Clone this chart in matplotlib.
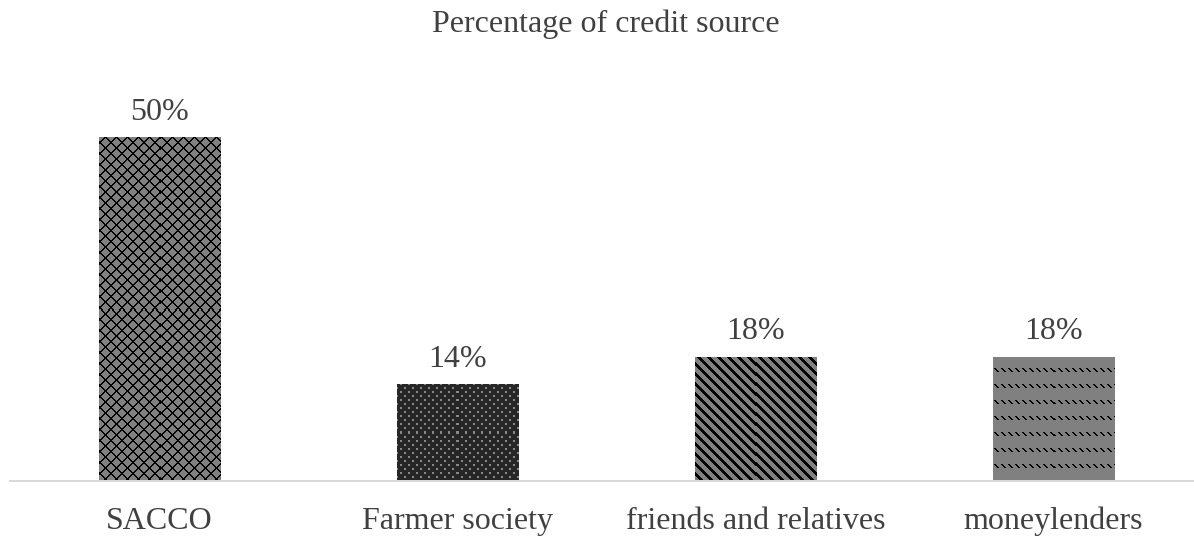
import numpy as np
import matplotlib
matplotlib.use("Agg")
import matplotlib.pyplot as plt

# Data
categories = ["SACCO", "Farmer society", "friends and relatives", "moneylenders"]
values = [50, 14, 18, 18]
value_labels = ["50%", "14%", "18%", "18%"]
title = "Percentage of credit source"

W, H, DPI = 1194, 537, 100
TEXT = "#404040"
GRAY = np.array([128, 128, 128]) / 255.0
BLACK = np.array([0, 0, 0]) / 255.0
DARK = np.array([38, 38, 38]) / 255.0
DOT = np.array([136, 136, 136]) / 255.0

plt.rcParams["font.family"] = ["Liberation Serif", "DejaVu Serif"]

fig = plt.figure(figsize=(W / DPI, H / DPI), dpi=DPI)
ax_left, ax_right = 10, W
ax_bottom, ax_top = 481, 100          # pixel rows from the top
ax = fig.add_axes([ax_left / W, (H - ax_bottom) / H,
                   (ax_right - ax_left) / W, (ax_bottom - ax_top) / H])

x = np.arange(len(categories))
bar_w = 0.406
bars = ax.bar(x, values, width=bar_w, color="#808080", linewidth=0, zorder=2)

x_lim = (-0.5, 3.471)
y_lim = (0, 55.5)
ax.set_xlim(*x_lim)
ax.set_ylim(*y_lim)


# Pixel textures for the bar fills
def lattice(xx, yy):
    p = 11
    m = ((xx + yy) % p < 2) | ((xx - yy) % p < 2)
    return np.where(m[..., None], BLACK, GRAY)


def dots(xx, yy):
    m = ((xx % 8 < 2) & (yy % 8 < 2)) | (((xx + 4) % 8 < 2) & ((yy + 4) % 8 < 2))
    return np.where(m[..., None], DOT, DARK)


def stripes(xx, yy):
    m = (xx - yy) % 10 < 4
    return np.where(m[..., None], BLACK, GRAY)


def dashes(xx, yy):
    r = yy % 16
    m = (r < 4) & ((xx - r) % 7 < 2)
    return np.where(m[..., None], BLACK, GRAY)


textures = [lattice, dots, stripes, dashes]

fig.canvas.draw()
for bar, tex in zip(bars, textures):
    bb = bar.get_window_extent()
    x0, x1 = int(round(bb.x0)), int(round(bb.x1))
    y0, y1 = int(round(H - bb.y1)), int(round(H - bb.y0))
    xx, yy = np.meshgrid(np.arange(x0, x1), np.arange(y0, y1))
    img = tex(xx, yy)
    bx, by = bar.get_x(), bar.get_y()
    ax.imshow(img, extent=(bx, bx + bar.get_width(), by, by + bar.get_height()),
              origin="upper", interpolation="nearest", aspect="auto", zorder=3)

ax.set_xlim(*x_lim)
ax.set_ylim(*y_lim)

# Value labels above bars
for xi, v, lab in zip(x, values, value_labels):
    ax.annotate(lab, xy=(xi, v), xytext=(0, 18), textcoords="offset pixels",
                ha="center", va="baseline", fontsize=23, color=TEXT)

# Category labels
ax.set_xticks(x)
ax.set_xticklabels(categories, fontsize=23, color=TEXT)
for lab in ax.get_xticklabels():
    lab.set_va("baseline")
ax.tick_params(axis="x", length=0, pad=48 * 72 / DPI)
ax.set_yticks([])

for s in ["left", "right", "top"]:
    ax.spines[s].set_visible(False)
ax.spines["bottom"].set_color("#d9d9d9")
ax.spines["bottom"].set_linewidth(2 * 72 / DPI)
ax.spines["bottom"].set_zorder(4)

fig.text(605.5 / W, 1 - 32 / H, title, ha="center", va="baseline",
         fontsize=23, color=TEXT)

fig.savefig("out.png", dpi=DPI)
